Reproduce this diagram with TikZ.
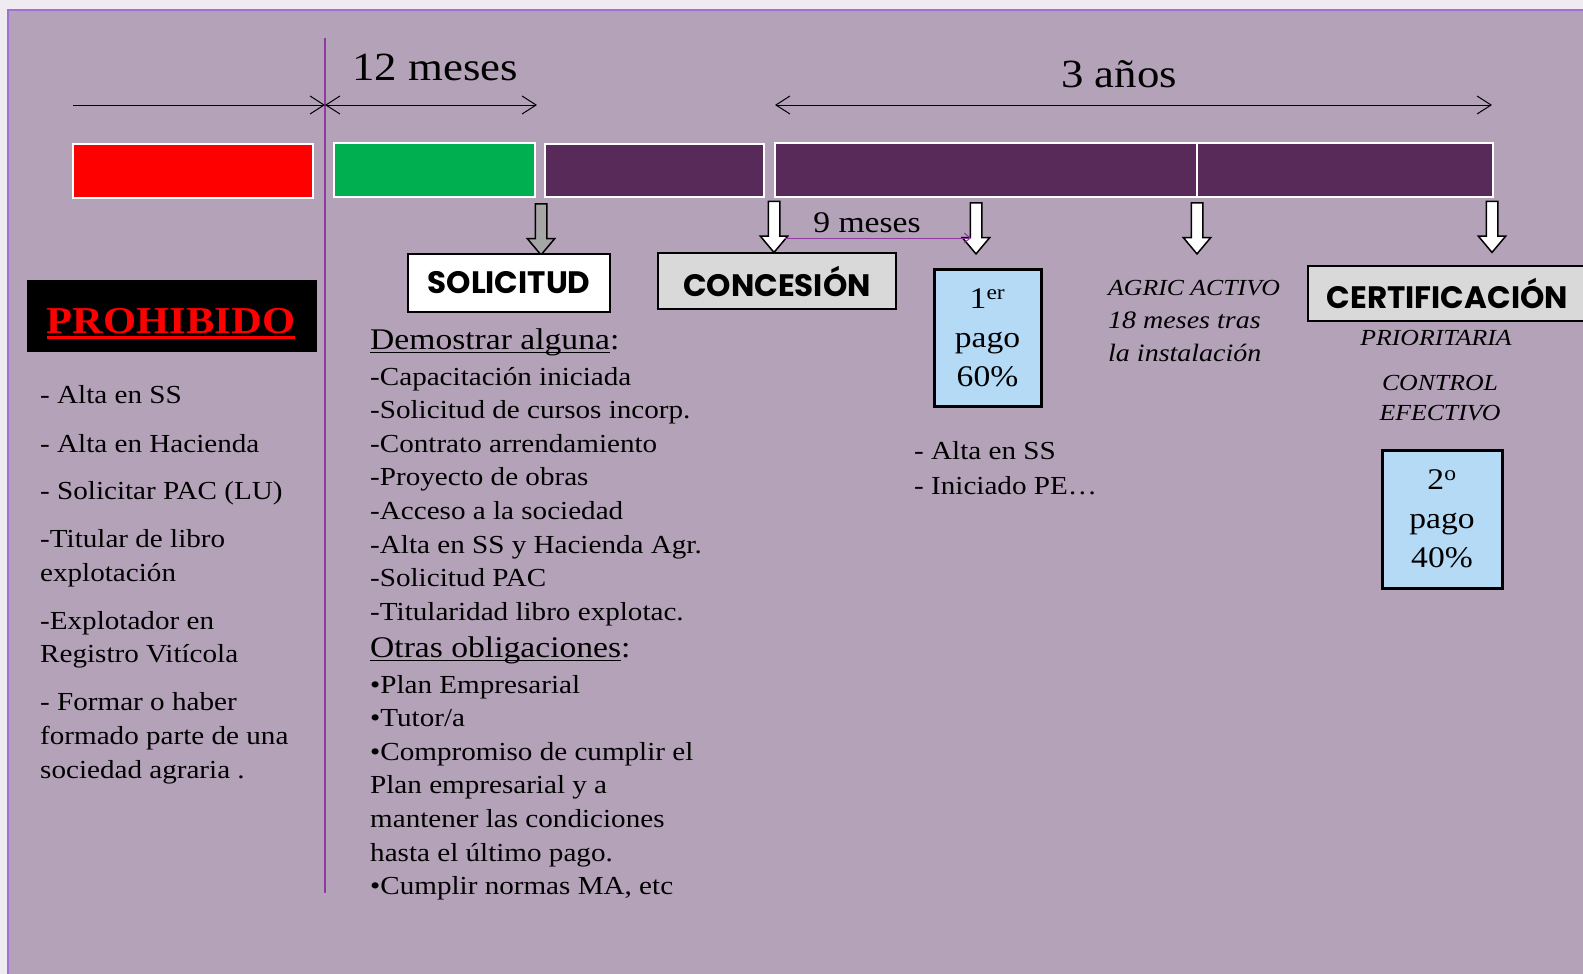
\documentclass[tikz,border=0pt]{standalone}
\usepackage{fontspec}
\setmainfont{Liberation Serif}[FakeStretch=1.12]
\newfontfamily\headfont{Poppins}
\usetikzlibrary{arrows.meta,shapes.arrows}

\definecolor{fuera}{HTML}{EFEBF1}
\definecolor{fondo}{HTML}{B4A2B8}
\definecolor{borde}{HTML}{A070D6}
\definecolor{linea}{HTML}{8E3A9E}
\definecolor{morado}{HTML}{582A5A}
\definecolor{verde}{HTML}{00B050}
\definecolor{azul}{HTML}{B4DAF6}
\definecolor{gris}{HTML}{D9D9D9}
\definecolor{grisflecha}{HTML}{A6A6A6}

\newcommand{\setfs}[2]{\fontsize{#1}{#2}\selectfont}
% subrayado: texto, grosor, profundidad
\newcommand{\subraya}[3]{\setbox0\hbox{#1}\rlap{\raisebox{-#3}{\rule{\wd0}{#2}}}\box0}

\tikzset{
  bar/.style={draw=white, line width=2pt},
  plazo/.style={line width=1pt, {Straight Barb[length=14pt,width=18pt]}-{Straight Barb[length=14pt,width=18pt]}},
  bajada/.style={single arrow, draw=black, line width=1.5pt, fill=white,
    minimum height=51pt, minimum width=26pt, single arrow head extend=8pt,
    single arrow tip angle=80, inner sep=5pt, shape border rotate=270},
  hito/.style={draw=black, line width=1.5pt, inner sep=0pt, font=\headfont\bfseries\setfs{31}{34}},
  pago/.style={draw=black, line width=3pt, fill=azul, align=center, inner sep=0pt,
    font=\setfs{30}{39}},
  texto/.style={anchor=base west, inner sep=0pt, font=\setfs{26}{34}},
  nota/.style={anchor=base, inner sep=0pt, font=\itshape\setfs{23}{30}}
}

\begin{document}
\begin{tikzpicture}[x=1pt,y=-1pt]
\useasboundingbox (0,0) rectangle (1583,974);
\fill[fuera] (0,0) rectangle (1583,974);
\draw[borde, line width=2pt, fill=fondo] (8,10) rectangle (1600,990);

% linea de separacion
\coordinate (v1) at (325,38);
\coordinate (v2) at (325,893);
\draw[linea, line width=1.5pt] (v1) -- (v2);

% plazos
\coordinate (p0) at (73,105);
\coordinate (p1) at (325,105);
\coordinate (p2) at (537,105);
\coordinate (p3) at (775,105);
\coordinate (p4) at (1492,105);
\draw[line width=1pt, -{Straight Barb[length=14pt,width=18pt]}] (p0) -- (p1);
\draw[plazo] (p1) -- (p2);
\draw[plazo] (p3) -- (p4);
\node[anchor=base, font=\setfs{40}{44}] (doce) at (435,81) {12 meses};
\node[anchor=base, font=\setfs{40}{44}] (tres) at (1119,88) {3 años};

% barras
\draw[bar, fill=red] (73,144) rectangle (313,198);
\draw[bar, fill=verde] (334,143) rectangle (535,197);
\draw[bar, fill=morado] (545,144) rectangle (764,197);
\draw[bar, fill=morado] (775,143) rectangle (1197,197);
\draw[bar, fill=morado] (1197,143) rectangle (1493,197);

% flechas hacia abajo
\node[bajada, fill=grisflecha] (fs) at (541,226) {};
\node[bajada] (fc) at (774,223.5) {};
\node[bajada] (fp) at (976,225) {};
\node[bajada] (fa) at (1197,225) {};
\node[bajada] (fe) at (1492,223.5) {};

% 9 meses
\coordinate (n0) at (785,238);
\coordinate (n1) at (971,238);
\draw[linea, line width=1pt, -{Straight Barb[length=6pt,width=10pt]}] (n0) -- (n1);
\node[anchor=base, font=\setfs{30}{32}] (nueve) at (867,232) {9 meses};

% hitos
\node[hito, fill=white, minimum width=202pt, minimum height=58pt] (solic) at (509,283) {SOLICITUD};
\node[hito, fill=gris, minimum width=238pt, minimum height=56pt] (conce) at (777,281) {CONCESIÓN};
\node[hito, fill=gris, anchor=west, text width=262pt, align=left, inner xsep=19pt,
  minimum height=55pt] (certif) at (1307,293.5) {CERTIFICACIÓN};

% pagos
\node[pago, minimum width=107pt, minimum height=137pt] (pago1) at (987.5,337.5)
  {1\textsuperscript{er}\\pago\\60\%};
\node[pago, minimum width=120pt, minimum height=138pt] (pago2) at (1442,519)
  {2\textsuperscript{o}\\pago\\40\%};

% prohibido
\node[fill=black, minimum width=290pt, minimum height=72pt, inner sep=0pt] (prohib) at (172,316) {};
\node[anchor=base, inner sep=0pt, text=red, font=\bfseries\setfs{38}{40}] (prohibT) at (171,333)
  {\subraya{PROHIBIDO}{3.5pt}{6pt}};

% lista izquierda
\foreach \t/\yb [count=\i] in {{- Alta en SS}/403, {- Alta en Hacienda}/452,
  {- Solicitar PAC (LU)}/499, {-Titular de libro}/547, {explotación}/581,
  {-Explotador en}/629, {Registro Vitícola}/662, {- Formar o haber}/710,
  {formado parte de una}/744, {sociedad agraria .}/778}
  \node[texto] (izq\i) at (40,\yb) {\t};

% lista central
\node[texto, font=\setfs{30}{34}] (demos) at (370,349)
  {\subraya{Demostrar alguna}{1.2pt}{4pt}:};
\foreach \t [count=\i] in {-Capacitación iniciada, -Solicitud de cursos incorp.,
  -Contrato arrendamiento, -Proyecto de obras, -Acceso a la sociedad,
  -Alta en SS y Hacienda Agr., -Solicitud PAC, -Titularidad libro explotac.}
  \node[texto] (dem\i) at (370,{385+33.6*(\i-1)}) {\t};
\node[texto, font=\setfs{30}{34}] (otras) at (370,657)
  {\subraya{Otras obligaciones}{1.2pt}{4pt}:};
\foreach \t [count=\i] in {•Plan Empresarial, •Tutor/a, •Compromiso de cumplir el,
  Plan empresarial y a, mantener las condiciones, hasta el último pago.,
  {•Cumplir normas MA, etc}}
  \node[texto] (obl\i) at (370,{693+33.6*(\i-1)}) {\t};

% notas
\node[texto] (ss1) at (914,459) {- Alta en SS};
\node[texto] (pe1) at (914,494) {- Iniciado PE…};
\node[texto, font=\itshape\setfs{23}{33}] (agr1) at (1108,295) {AGRIC ACTIVO};
\node[texto, font=\itshape\setfs{25}{33}] (agr2) at (1108,328) {18 meses tras};
\node[texto, font=\itshape\setfs{25}{33}] (agr3) at (1108,361) {la instalación};
\node[nota] (prio) at (1436,345) {PRIORITARIA};
\node[nota] (ctrl) at (1440,390) {CONTROL};
\node[nota] (efec) at (1440,420) {EFECTIVO};
\end{tikzpicture}
\end{document}
